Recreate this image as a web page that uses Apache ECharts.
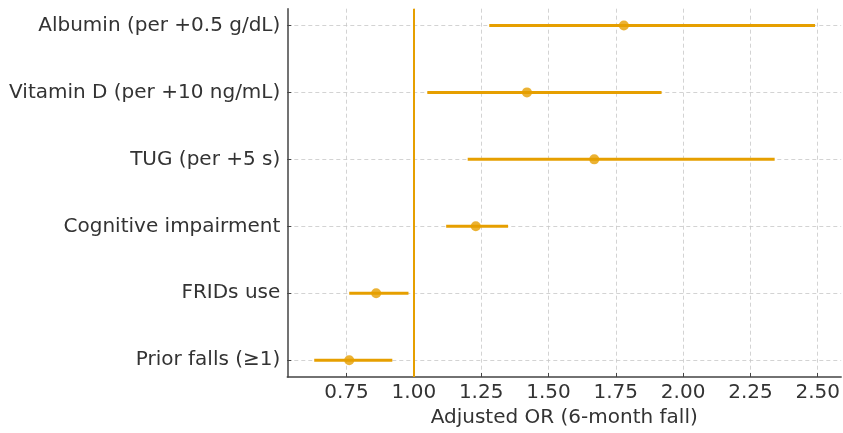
<!DOCTYPE html>
<html>
<head>
<meta charset="utf-8">
<script src="https://cdn.jsdelivr.net/npm/echarts@6/dist/echarts.min.js"></script>
<style>
  html, body { margin: 0; padding: 0; background: #fff; }
  #chart { width: 843px; height: 433px; }
</style>
</head>
<body>
<div id="chart"></div>
<script>
// Predictors, listed bottom to top
const predictors = [
  'Prior falls (≥1)',
  'FRIDs use',
  'Cognitive impairment',
  'TUG (per +5 s)',
  'Vitamin D (per +10 ng/mL)',
  'Albumin (per +0.5 g/dL)'
];
// Adjusted odds ratios and 95% CI bounds
const oddsRatio = [0.76, 0.86, 1.23, 1.67, 1.42, 1.78];
const ciLower   = [0.63, 0.76, 1.12, 1.20, 1.05, 1.28];
const ciUpper   = [0.92, 0.98, 1.35, 2.34, 1.92, 2.49];
// Odds-ratio axis ticks
const orTicks = [0.75, 1.00, 1.25, 1.50, 1.75, 2.00, 2.25, 2.50];
const rowTicks = predictors.map((_, i) => i);

const ORANGE = '#E69F00';
const TEXT = '#333333';
const FONT = 'DejaVu Sans';
const FS = 20;

const chart = echarts.init(document.getElementById('chart'), null, { renderer: 'canvas' });

const ciData = predictors.map((_, i) => [ciLower[i], ciUpper[i], i]);
const pointData = predictors.map((_, i) => [oddsRatio[i], i]);

chart.setOption({
  animation: false,
  backgroundColor: '#ffffff',
  grid: { left: 287.3, right: 1.4, top: 8.7, bottom: 53.7, containLabel: false },
  xAxis: {
    type: 'value',
    min: 0.53,
    max: 2.587,
    name: 'Adjusted OR (6-month fall)',
    nameLocation: 'middle',
    nameGap: 31,
    nameTextStyle: { color: TEXT, fontFamily: FONT, fontSize: FS },
    axisLine: { show: true, onZero: false, lineStyle: { color: '#444', width: 1.5 } },
    axisTick: { show: true, inside: true, length: 4, customValues: orTicks, lineStyle: { color: '#444', width: 1 } },
    axisLabel: {
      customValues: orTicks,
      margin: 6,
      color: TEXT, fontFamily: FONT, fontSize: FS,
      formatter: v => v.toFixed(2)
    },
    splitLine: { show: true, lineStyle: { color: '#c8c8c8', type: [4, 3], width: 0.8 } }
  },
  yAxis: {
    type: 'value',
    min: -0.25,
    max: 5.25,
    axisLine: { show: true, onZero: false, lineStyle: { color: '#444', width: 1.5 } },
    axisTick: { show: true, inside: true, length: 4, customValues: rowTicks, lineStyle: { color: '#444', width: 1 } },
    axisLabel: {
      customValues: rowTicks,
      margin: 7,
      color: TEXT, fontFamily: FONT, fontSize: FS,
      formatter: v => predictors[Math.round(v)] || ''
    },
    splitLine: { show: true, lineStyle: { color: '#c8c8c8', type: [4, 3], width: 0.8 } }
  },
  series: [
    {
      name: '95% CI',
      type: 'custom',
      data: ciData,
      encode: { x: [0, 1], y: 2 },
      renderItem: (params, api) => {
        const a = api.coord([api.value(0), api.value(2)]);
        const b = api.coord([api.value(1), api.value(2)]);
        return {
          type: 'line',
          shape: { x1: a[0], y1: a[1], x2: b[0], y2: b[1] },
          style: { stroke: ORANGE, lineWidth: 3 }
        };
      },
      z: 3
    },
    {
      name: 'Adjusted OR',
      type: 'scatter',
      data: pointData,
      symbol: 'circle',
      symbolSize: 10,
      itemStyle: { color: ORANGE },
      z: 4,
      markLine: {
        silent: true,
        symbol: 'none',
        label: { show: false },
        lineStyle: { color: ORANGE, type: 'solid', width: 2 },
        data: [{ xAxis: 1 }]
      }
    }
  ]
});
</script>
</body>
</html>
